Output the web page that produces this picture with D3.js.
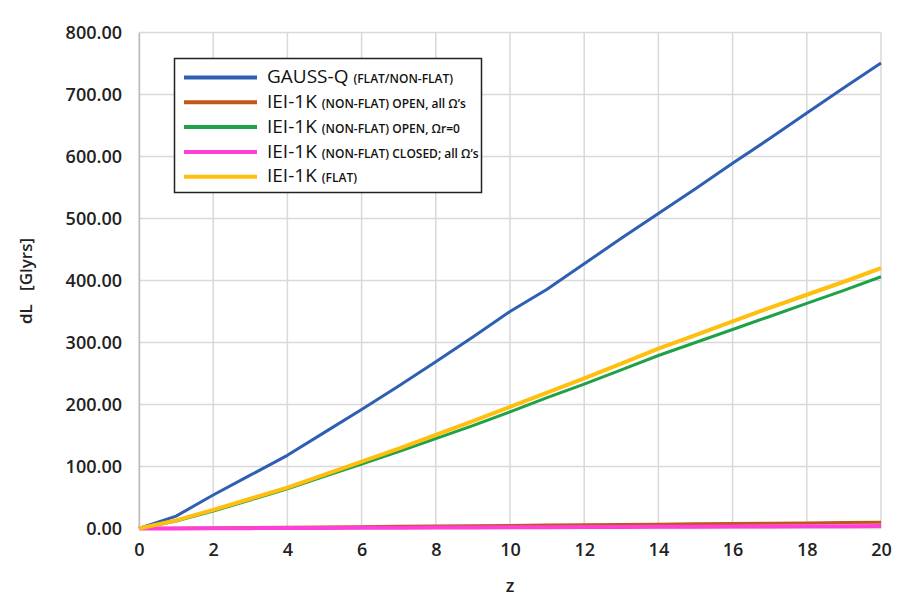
<!DOCTYPE html>
<html>
<head>
<meta charset="utf-8">
<script src="https://cdn.jsdelivr.net/npm/d3@7"></script>
<style>
  html, body { margin: 0; padding: 0; background: #fff; }
  svg { display: block; font-family: "Open Sans", "Noto Sans", sans-serif; }
</style>
</head>
<body>
<svg id="chart" width="901" height="598"></svg>
<script>
// Redshift values z = 0 … 20
const zValues = d3.range(0, 21);

// Luminosity distance dL [Glyrs] for each model
const gaussQ     = [0, 20, 54, 86, 118, 155, 192, 230, 269, 309, 350, 386, 427, 468, 508, 548, 589, 629, 670, 711, 751];
const iei1kOpenAll = [0, 0.5, 1, 1.5, 2, 2.5, 3, 3.5, 4, 4.5, 5, 5.5, 6, 6.5, 7, 7.5, 8, 8.5, 9, 9.5, 10];
const iei1kOpenR0  = [0, 12, 28, 46, 64, 84, 104, 124, 145, 166, 188, 211, 233, 256, 279, 300, 321, 342, 363, 384, 406];
const iei1kClosed  = [0, 0.2, 0.4, 0.6, 0.8, 1, 1.2, 1.4, 1.6, 1.8, 2, 2.2, 2.4, 2.6, 2.8, 3, 3.2, 3.4, 3.6, 3.8, 4];
const iei1kFlat    = [0, 13, 30, 48, 66, 87, 108, 129, 151, 173, 196, 219, 242, 266, 290, 312, 334, 356, 377, 398, 420];

// Axis ticks
const xTicks = d3.range(0, 21, 2);
const yTicks = d3.range(0, 801, 100);

const seriesNames = ["GAUSS-Q", "IEI-1K", "IEI-1K", "IEI-1K", "IEI-1K"];
const seriesNotes = ["(FLAT/NON-FLAT)", "(NON-FLAT) OPEN, all Ω’s", "(NON-FLAT) OPEN, Ωr=0", "(NON-FLAT) CLOSED; all Ω’s", "(FLAT)"];
const seriesValues = [gaussQ, iei1kOpenAll, iei1kOpenR0, iei1kClosed, iei1kFlat];
const seriesColors = ["#2f5fb3", "#c2561a", "#1fa147", "#ff3fd8", "#ffbf0f"];
const seriesWidths = [3, 3, 3, 4, 4];

const svg = d3.select("#chart");
const margin = { left: 139, right: 20, top: 32.5, bottom: 69.5 };
const W = 901, H = 598;

const x = d3.scaleLinear().domain([0, 20]).range([margin.left, W - margin.right]);
const y = d3.scaleLinear().domain([0, 800]).range([H - margin.bottom, margin.top]);

// Gridlines
const grid = svg.append("g");
grid.selectAll("line.h").data(yTicks).join("line")
  .attr("x1", x(0)).attr("x2", x(20))
  .attr("y1", d => y(d)).attr("y2", d => y(d))
  .attr("stroke", "#d9d9d9").attr("stroke-width", 1.5);
grid.selectAll("line.v").data(xTicks).join("line")
  .attr("y1", y(0)).attr("y2", y(800))
  .attr("x1", d => x(d)).attr("x2", d => x(d))
  .attr("stroke", "#d9d9d9").attr("stroke-width", 1.5);

// Axes (labels only, lines drawn by grid)
const yAxis = svg.append("g")
  .attr("transform", `translate(${x(0)},0)`)
  .call(d3.axisLeft(y).tickValues(yTicks).tickFormat(d3.format(".2f")).tickSize(0).tickPadding(17));
yAxis.select(".domain").attr("stroke", "#bfbfbf").attr("stroke-width", 1.5);
yAxis.selectAll("text").attr("font-size", 18).attr("font-weight", 600)
  .attr("fill", "#222").attr("font-family", "'Open Sans', sans-serif");

const xAxis = svg.append("g")
  .attr("transform", `translate(0,${y(0)})`)
  .call(d3.axisBottom(x).tickValues(xTicks).tickFormat(d3.format("d")).tickSize(0).tickPadding(15));
xAxis.select(".domain").remove();
xAxis.selectAll("text").attr("font-size", 18).attr("font-weight", 600)
  .attr("fill", "#222").attr("font-family", "'Open Sans', sans-serif");

// Axis titles
svg.append("text").attr("x", x(10)).attr("y", 592)
  .attr("text-anchor", "middle").attr("font-size", 18).attr("font-weight", 600).attr("fill", "#222")
  .text("z");
svg.append("text")
  .attr("transform", "translate(32,281) rotate(-90)")
  .attr("text-anchor", "middle").attr("font-size", 17).attr("font-weight", 600).attr("fill", "#222")
  .attr("xml:space", "preserve")
  .text("dL   [Glyrs]");

// Series lines
const line = d3.line().x((d, i) => x(zValues[i])).y(d => y(d));
svg.append("g").selectAll("path").data(seriesValues).join("path")
  .attr("d", d => line(d))
  .attr("fill", "none")
  .attr("stroke", (d, i) => seriesColors[i])
  .attr("stroke-width", (d, i) => seriesWidths[i])
  .attr("stroke-linejoin", "round");

// Legend
const legend = svg.append("g");
legend.append("rect").attr("x", 174.5).attr("y", 58.5).attr("width", 307).attr("height", 134)
  .attr("fill", "#fff").attr("stroke", "#222").attr("stroke-width", 1.5);
const rows = legend.selectAll("g.row").data(seriesNames).join("g")
  .attr("transform", (d, i) => `translate(0,${77.5 + i * 24.8})`);
rows.append("line").attr("x1", 184).attr("x2", 257).attr("y1", 0).attr("y2", 0)
  .attr("stroke", (d, i) => seriesColors[i]).attr("stroke-width", 4);
const t = rows.append("text").attr("x", 267).attr("y", 0).attr("dy", "0.36em").attr("fill", "#111");
t.append("tspan").attr("font-size", 19).attr("font-weight", 500).text(d => d);
t.append("tspan").attr("font-size", 12).attr("font-weight", 600).attr("dx", 5).text((d, i) => seriesNotes[i]);
</script>
</body>
</html>
